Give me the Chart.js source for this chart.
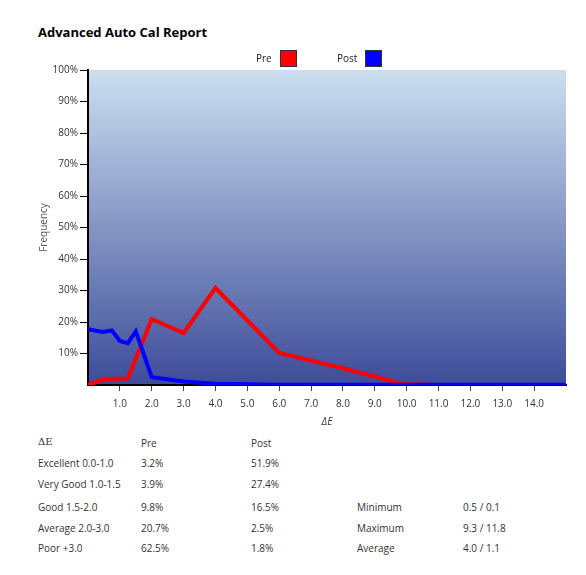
<!DOCTYPE html>
<html>
<head>
<meta charset="utf-8">
<script src="https://cdn.jsdelivr.net/npm/chart.js@4/dist/chart.umd.min.js"></script>
<style>
  html, body { margin: 0; padding: 0; background: #fff; }
  body { width: 586px; height: 575px; position: relative; overflow: hidden; font-family: "Open Sans", "Noto Sans", sans-serif; }
  #title { position: absolute; left: 38px; top: 23px; font-size: 13px; font-weight: bold; color: #000; font-family: "Open Sans", sans-serif; }
  #wrap { position: absolute; left: 0; top: 0; width: 586px; height: 435px; }
  .leg { position: absolute; top: 50px; font-size: 10px; color: #222; line-height: 17px; }
  .leg span.box { display: inline-block; width: 15px; height: 15px; border: 1px solid #333; vertical-align: top; margin-left: 8px; }
  .cell { position: absolute; font-size: 10px; color: #333; white-space: nowrap; line-height: 12px; }
  .serif { font-family: "DejaVu Serif", "Liberation Serif", serif; }
</style>
</head>
<body>
<div id="title">Advanced Auto Cal Report</div>
<div id="wrap"><canvas id="c" width="586" height="435"></canvas></div>
<div id="legend"></div>
<div id="table"></div>
<script>
// ---- data ----
const seriesNames = ["Pre", "Post"];
const seriesColors = ["#ff0000", "#0000ff"];
const preX = [0, 0.4, 0.7, 1.25, 2.0, 3.0, 4.0, 6.0, 8.0, 9.0, 9.75, 10.0, 11.0];
const preY = [0, 1.5, 1.9, 2.1, 20.9, 16.5, 30.8, 10.2, 5.3, 2.7, 0.6, 0.2, 0];
const postX = [0, 0.45, 0.75, 1.0, 1.25, 1.5, 2.0, 3.0, 4.0, 6.0, 10.0, 15.0];
const postY = [17.7, 16.8, 17.3, 14.0, 13.3, 17.0, 2.5, 1.1, 0.4, 0.1, 0.1, 0.1];
const xTickValues = [1,2,3,4,5,6,7,8,9,10,11,12,13,14];
const yTickValues = [10,20,30,40,50,60,70,80,90,100];

const tableHeader = ["\u0394E", "Pre", "Post"];
const tableCategories = ["Excellent 0.0-1.0", "Very Good 1.0-1.5", "Good 1.5-2.0", "Average 2.0-3.0", "Poor +3.0"];
const tablePre = ["3.2%", "3.9%", "9.8%", "20.7%", "62.5%"];
const tablePost = ["51.9%", "27.4%", "16.5%", "2.5%", "1.8%"];
const statNames = ["Minimum", "Maximum", "Average"];
const statValues = ["0.5 / 0.1", "9.3 / 11.8", "4.0 / 1.1"];

// ---- legend (HTML) ----
const legend = document.getElementById('legend');
const legX = [256, 337];
seriesNames.forEach((n, i) => {
  const d = document.createElement('div');
  d.className = 'leg';
  d.style.left = legX[i] + 'px';
  d.innerHTML = n + '<span class="box" style="background:' + seriesColors[i] + '"></span>';
  legend.appendChild(d);
});

// ---- table (HTML) ----
const table = document.getElementById('table');
function cell(text, x, y, cls) {
  const d = document.createElement('div');
  d.className = 'cell' + (cls ? ' ' + cls : '');
  d.style.left = x + 'px'; d.style.top = (y - 6) + 'px';
  d.textContent = text;
  table.appendChild(d);
}
const colX = [38, 141, 251];
cell(tableHeader[0], colX[0], 442, 'serif');
cell(tableHeader[1], colX[1], 443);
cell(tableHeader[2], colX[2], 443);
const rowY = [463, 484, 507, 528, 548];
tableCategories.forEach((c, i) => {
  cell(c, colX[0], rowY[i]);
  cell(tablePre[i], colX[1], rowY[i]);
  cell(tablePost[i], colX[2], rowY[i]);
});
const statY = [507, 528, 548];
statNames.forEach((s, i) => {
  cell(s, 357, statY[i]);
  cell(statValues[i], 463, statY[i]);
});

// ---- chart ----
const bgPlugin = {
  id: 'bgGrad',
  beforeDraw(chart) {
    const { ctx, chartArea: a } = chart;
    const g = ctx.createLinearGradient(0, a.top, 0, a.bottom);
    g.addColorStop(0, '#cbdff0');
    g.addColorStop(1, '#3e4c99');
    ctx.save();
    ctx.fillStyle = g;
    ctx.fillRect(a.left, a.top, a.right - a.left, a.bottom - a.top);
    ctx.restore();
  }
};

const tickFont = { family: "'Open Sans', 'Noto Sans', sans-serif", size: 10 };

new Chart(document.getElementById('c'), {
  type: 'line',
  data: {
    datasets: [
      { label: seriesNames[0], data: preX.map((x, i) => ({ x, y: preY[i] })), borderColor: seriesColors[0], borderWidth: 4, pointRadius: 0, tension: 0, order: 1, fill: false },
      { label: seriesNames[1], data: postX.map((x, i) => ({ x, y: postY[i] })), borderColor: seriesColors[1], borderWidth: 4, pointRadius: 0, tension: 0, order: 0, fill: false }
    ]
  },
  options: {
    responsive: false,
    animation: false,
    layout: { padding: { top: 70, right: 20, left: 0, bottom: 7 } },
    plugins: { legend: { display: false }, title: { display: false }, tooltip: { enabled: false } },
    scales: {
      x: {
        type: 'linear', min: 0, max: 15,
        afterBuildTicks(s) { s.ticks = xTickValues.map(v => ({ value: v })); },
        ticks: { callback: v => v.toFixed(1), font: tickFont, color: '#333', padding: 7, maxRotation: 0, autoSkip: false },
        grid: { drawOnChartArea: false, tickLength: 6, color: '#444', tickWidth: 1 },
        border: { color: '#000', width: 2 },
        title: { display: true, text: '\u0394E', font: { family: "'Open Sans', sans-serif", size: 10, style: 'italic' }, color: '#333', padding: { top: 2, bottom: 0 } },
        afterFit(s) { s.height = 43; }
      },
      y: {
        min: 0, max: 100,
        afterBuildTicks(s) { s.ticks = yTickValues.map(v => ({ value: v })); },
        ticks: { callback: v => v + '%', font: tickFont, color: '#333', padding: 2, autoSkip: false },
        grid: { drawOnChartArea: false, tickLength: 8, color: '#000', tickWidth: 1 },
        border: { color: '#000', width: 2 },
        title: { display: true, text: 'Frequency', font: { family: "'Open Sans', sans-serif", size: 10 }, color: '#555', padding: { top: 38, bottom: 0 } },
        afterFit(s) { s.width = 88; }
      }
    }
  },
  plugins: [bgPlugin]
});
</script>
</body>
</html>
